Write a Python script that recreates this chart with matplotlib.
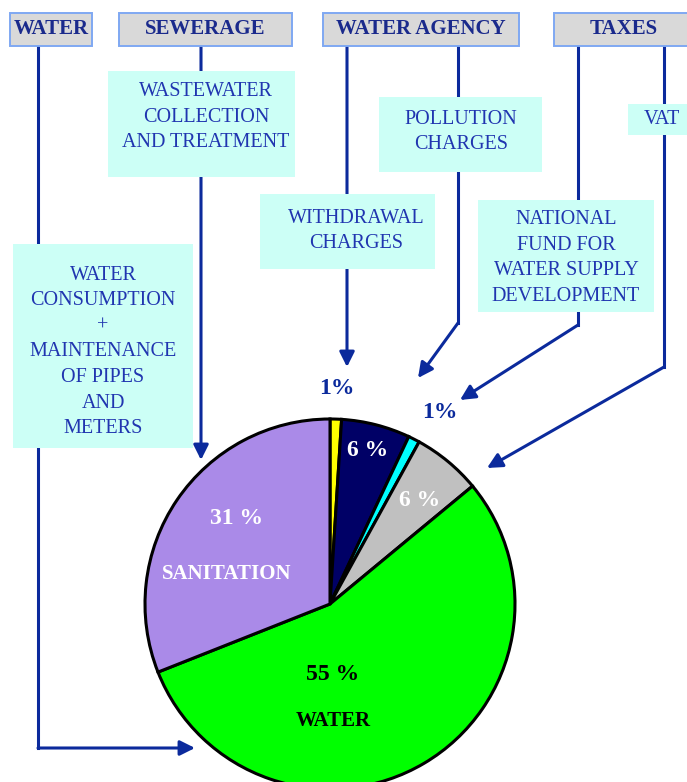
import matplotlib
matplotlib.use('Agg')
import matplotlib.pyplot as plt
from matplotlib.patches import Rectangle

## Data
shares = [1, 6, 1, 6, 55, 31]
slice_colors = ['#FFFF00', '#000066', '#00FFFF', '#C0C0C0', '#00FF00', '#AA8AE8']
pct_labels = ['1%', '6 %', '1%', '6 %', '55 %', '31 %']
headers = ['WATER', 'SEWERAGE', 'WATER AGENCY', 'TAXES']
items = ['WASTEWATER\nCOLLECTION\nAND TREATMENT', 'POLLUTION\nCHARGES', 'WITHDRAWAL\nCHARGES',
         'NATIONAL\nFUND FOR\nWATER SUPPLY\nDEVELOPMENT', 'VAT',
         'WATER\nCONSUMPTION\n+\nMAINTENANCE\nOF PIPES\nAND\nMETERS']

W, H = 687, 782
BLUE = '#0B2A9C'
TXT = '#2035B0'
BOXC = '#CCFFF6'
FONT = 'Liberation Serif'

fig = plt.figure(figsize=(W / 100, H / 100), dpi=100)
ax = fig.add_axes([0, 0, 1, 1])

def Y(y):
    # pixel rows (top-down) to axis coordinates
    return H - y

## Pie
ax.pie(shares, colors=slice_colors, startangle=90, counterclock=False,
       center=(330, Y(604)), radius=185,
       wedgeprops=dict(edgecolor='black', linewidth=2.2))

## Header boxes
hdr_boxes = [(10, 92), (119, 292), (323, 519), (554, 700)]
for name, (x0, x1) in zip(headers, hdr_boxes):
    ax.add_patch(Rectangle((x0, Y(46)), x1 - x0, 33, facecolor='#D9D9D9',
                           edgecolor='#7FA8F2', linewidth=1.4, zorder=3))
for name, xc in zip(headers, [51, 205, 421, 624]):
    ax.text(xc, Y(29), name, ha='center', va='center', color='#1A2A8C',
            fontsize=15, fontweight='bold', family=FONT, zorder=4)

## Item boxes (x0, x1, y0, y1)
item_boxes = [(108, 295, 71, 177), (379, 542, 97, 172), (260, 435, 194, 269),
              (478, 654, 200, 312), (628, 700, 104, 135), (13, 193, 244, 448)]
item_centers = [(206, 117), (461, 132), (356, 231), (566, 258), (644, 120), (103, 352)]
for txt, (x0, x1, y0, y1), (xc, yc) in zip(items, item_boxes, item_centers):
    ax.add_patch(Rectangle((x0, Y(y1)), x1 - x0, y1 - y0, facecolor=BOXC,
                           edgecolor='none', zorder=2))
    ha = 'left' if txt == 'VAT' else 'center'
    ax.text(xc, Y(yc), txt, ha=ha, va='center', color=TXT, fontsize=14.5,
            family=FONT, linespacing=1.47, zorder=4)

## Connector lines (pixel coords), last point gets the arrow head
paths = [
    [(38, 46), (38, 748), (195, 748)],
    [(201, 46), (201, 460)],
    [(347, 46), (347, 367)],
    [(458, 46), (458, 323), (418, 378)],
    [(578, 46), (578, 325), (460, 400)],
    [(664, 46), (664, 367), (487, 468)],
]
for pts in paths:
    xs = [p[0] for p in pts]
    ys = [Y(p[1]) for p in pts]
    ax.plot(xs[:-1], ys[:-1], color=BLUE, lw=2.2, zorder=1, solid_joinstyle='miter')
    ax.annotate('', xy=(xs[-1], ys[-1]), xytext=(xs[-2], ys[-2]),
                arrowprops=dict(arrowstyle='-|>,head_length=0.9,head_width=0.45',
                                color=BLUE, lw=2.2, shrinkA=0, shrinkB=0), zorder=1)

## Slice labels
lab_pos = [(337, 389, BLUE), (368, 450, 'white'), (440, 413, BLUE), (420, 501, 'white'),
           (333, 675, 'black'), (237, 518, 'white')]
for lab, (x, y, c) in zip(pct_labels, lab_pos):
    ax.text(x, Y(y), lab, ha='center', va='center', color=c, fontsize=17,
            fontweight='bold', family=FONT, zorder=5)
ax.text(227, Y(574), 'SANITATION', ha='center', va='center', color='white',
        fontsize=15, fontweight='bold', family=FONT, zorder=5)
ax.text(333, Y(721), 'WATER', ha='center', va='center', color='black',
        fontsize=15, fontweight='bold', family=FONT, zorder=5)

ax.set_xlim(0, W)
ax.set_ylim(0, H)
ax.set_aspect('equal')
ax.axis('off')
fig.savefig('out.png', dpi=100, facecolor='white')
